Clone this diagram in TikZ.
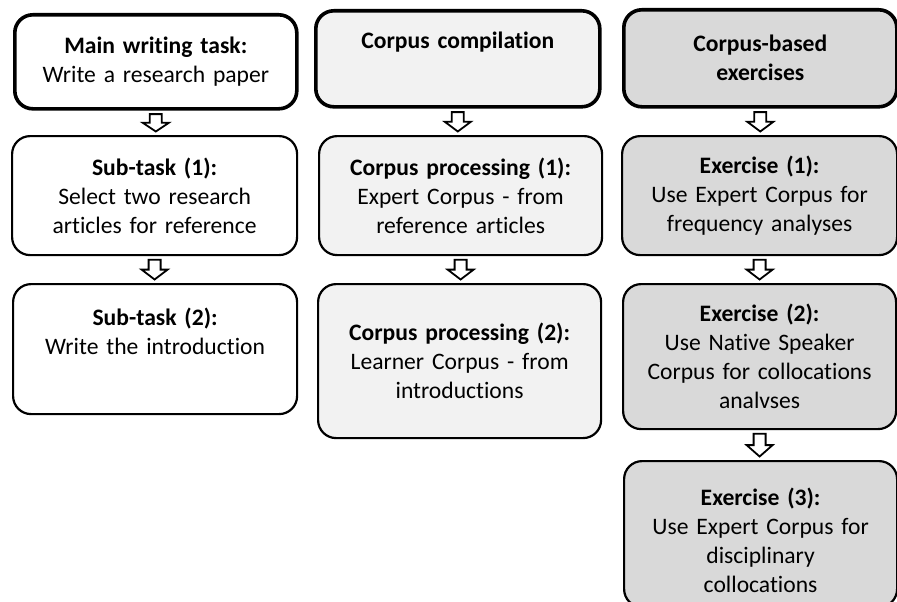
\documentclass[tikz,border=0pt]{standalone}
\usepackage{fontspec}
\setmainfont{Carlito}[Ligatures=NoCommon]
\usetikzlibrary{calc}
\definecolor{lightfill}{HTML}{F2F2F2}
\definecolor{midfill}{HTML}{D9D9D9}
\tikzset{
  box/.style={draw=black, line width=2.2pt, rounded corners=18pt, anchor=north west,
    inner sep=0pt, align=center, text width=270pt,
    font=\fontsize{23.6}{29}\selectfont},
  head/.style={box, line width=3.6pt},
  txt/.style={inner sep=0pt, align=center, text width=270pt,
    font=\fontsize{23.6}{29}\selectfont},
  hollow/.style={draw=black, line width=1.8pt, fill=white, line join=miter,
    to path={let \p1=(\tikztostart), \p2=(\tikztotarget) in
      ({\x1-6pt},{\y1-3.5pt}) -- ({\x1+6pt},{\y1-3.5pt}) -- ({\x1+6pt},{(\y1+\y2)/2})
      -- ({\x1+13pt},{(\y1+\y2)/2}) -- (\x1,{\y2+3.5pt}) -- ({\x1-13pt},{(\y1+\y2)/2})
      -- ({\x1-6pt},{(\y1+\y2)/2}) -- cycle}}
}
\begin{document}
\begin{tikzpicture}[x=1pt,y=-1pt]
\useasboundingbox[fill=white] (0,0) rectangle (897,602);
% column 1
\node[head, fill=white, minimum width=282pt, minimum height=94pt] (m1) at (13,13)
  {\textbf{Main writing task:}\\Write a research paper};
\node[box, fill=white, minimum width=285pt, minimum height=119pt] (m2) at (11,135)
  {\textbf{Sub-task (1):}\\Select two research\\articles for reference};
\node[box, fill=white, minimum width=284pt, minimum height=130pt] (m3) at (12,283) {};
\node[txt, anchor=north] (m3t) at ($(m3.north)+(0,25)$)
  {\textbf{Sub-task (2):}\\Write the introduction};
% column 2
\node[head, fill=lightfill, minimum width=284pt, minimum height=96pt] (c1) at (314,9)
  {\textbf{Corpus compilation}\\\strut};
\node[box, fill=lightfill, minimum width=283pt, minimum height=119pt] (c2) at (318,135)
  {\textbf{Corpus processing (1):}\\Expert Corpus - from\\reference articles};
\node[box, fill=lightfill, minimum width=283pt, minimum height=154pt] (c3) at (317,283)
  {\textbf{Corpus processing (2):}\\Learner Corpus - from\\introductions};
% column 3
\node[head, fill=midfill, minimum width=273pt, minimum height=97pt] (e0) at (622,8)
  {\textbf{Corpus-based}\\\textbf{exercises}};
\node[box, fill=midfill, minimum width=275pt, minimum height=119pt] (e1) at (621,135)
  {\textbf{Exercise (1):}\\Use Expert Corpus for\\frequency analyses};
\node[box, fill=midfill, minimum width=273pt, minimum height=145pt] (e2) at (622,283)
  {\textbf{Exercise (2):}\\Use Native Speaker\\Corpus for collocations\\analvses};
\node[box, fill=midfill, minimum width=273pt, minimum height=146pt] (e3) at (623,460) {};
\node[txt] (e3t) at ($(e3.center)+(0,6)$)
  {\textbf{Exercise (3):}\\Use Expert Corpus for\\disciplinary\\collocations};
% arrows
\draw[hollow] (m1.south) to (m2.north);
\draw[hollow] (m2.south) to (m3.north);
\draw[hollow] (c1.south) to (c2.north);
\draw[hollow] (c2.south) to (c3.north);
\draw[hollow] (e0.south) to (e1.north);
\draw[hollow] (e1.south) to (e2.north);
\draw[hollow] (e2.south) to (e3.north);
\end{tikzpicture}
\end{document}
